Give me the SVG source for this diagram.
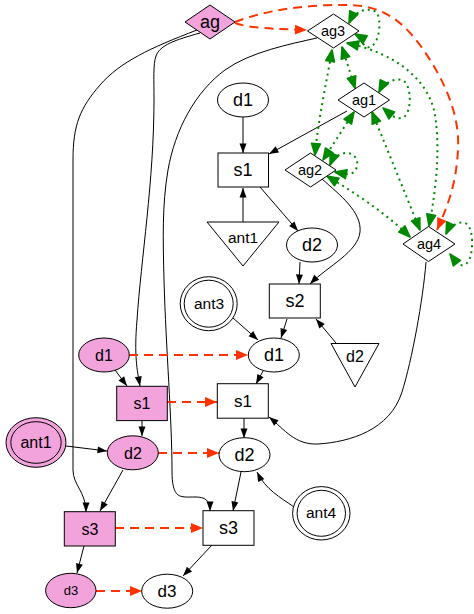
<svg xmlns="http://www.w3.org/2000/svg" width="474" height="614" viewBox="0 0 474 614">
<style>
.n{stroke:#000;stroke-width:1;fill:#fff}
.p{fill:#f2a3dc}
text{font-family:"Liberation Sans",Arial,Helvetica,sans-serif;text-anchor:middle;fill:#000}
.e{fill:none;stroke:#000;stroke-width:1;marker-end:url(#ab)}
.r{fill:none;stroke:#ff3300;stroke-width:2;stroke-dasharray:9,6;marker-end:url(#ar)}
.g{fill:none;stroke:#008800;stroke-width:2;stroke-dasharray:2,4;marker-end:url(#ag);marker-start:url(#ag)}
</style>
<defs>
<marker id="ab" markerUnits="userSpaceOnUse" markerWidth="11" markerHeight="8" refX="9.5" refY="3.5" orient="auto-start-reverse" overflow="visible"><path d="M0,0 L9.5,3.5 L0,7 z" fill="#000"/></marker>
<marker id="ar" markerUnits="userSpaceOnUse" markerWidth="13" markerHeight="11" refX="12" refY="5" orient="auto-start-reverse" overflow="visible"><path d="M0,0 L12,5 L0,10 z" fill="#ff3300"/></marker>
<marker id="ag" markerUnits="userSpaceOnUse" markerWidth="14" markerHeight="12" refX="12" refY="5" orient="auto-start-reverse" overflow="visible"><path d="M0.5,0.5 L12,5 L0.5,9.5 z" fill="#008800" stroke="#008800" stroke-width="1.5" stroke-linejoin="round"/></marker>
</defs>

<g id="connectors">
<!-- black edges -->
<path class="e" d="M243,117 L243,153"/>
<path class="e" d="M243,222 L243,188"/>
<path class="e" d="M260,187 L298,231"/>
<path class="e" d="M347,111 L269,154"/>
<path class="e" d="M322,179 C340,195 362,212 360,232 C358,252 328,266 310,284"/>
<path class="e" d="M300,262 L299,284"/>
<path class="e" d="M197,30 C150,48 120,62 100,85 C80,108 73,125 73,160 L73,470 C73,485 86,492 86,512"/>
<path class="e" d="M200,33 C175,40 160,45 156,56 C153,64 154,80 154,100 C154,180 141,260 137,320 C134,355 137,370 140,386"/>
<path class="e" d="M317,38 C290,44 250,52 225,70 C195,92 175,130 168,170 C162,205 163,240 164,280 C166,350 172,420 172,470 C172,500 180,497 195,497 C205,497 210,500 210,511"/>
<path class="e" d="M233,318 L258,340"/>
<path class="e" d="M287,319 L281,338"/>
<path class="e" d="M336,343 L316,319"/>
<path class="e" d="M263,371 L256,384"/>
<path class="e" d="M426,262 C423,300 412,360 402,392 C390,430 350,442 318,444 C295,445 285,430 269,417"/>
<path class="e" d="M244,418 L244,438"/>
<path class="e" d="M294,507 C280,497 266,490 257,472"/>
<path class="e" d="M241,472 L233,511"/>
<path class="e" d="M212,545 L183,576"/>
<path class="e" d="M115,370 L127,386"/>
<path class="e" d="M142,421 L142,436"/>
<path class="e" d="M66,446 L107,451"/>
<path class="e" d="M123,470 L100,511"/>
<path class="e" d="M84,546 L77,573"/>
<!-- red dashed -->
<path class="r" d="M235,23 C248,28 275,29 307,30"/>
<path class="r" d="M235,22 C265,10 310,4 350,5 C380,6 400,18 420,45 C445,80 460,115 458,150 C456,185 448,205 437,230"/>
<path class="r" d="M129,355 L248,355"/>
<path class="r" d="M167,402 L217,402"/>
<path class="r" d="M158,453 L219,453"/>
<path class="r" d="M115,528 L203,528"/>
<path class="r" d="M96,591 L142,591"/>
<!-- green dotted -->
<path class="g" d="M342,47 L355,88"/>
<path class="g" d="M332,50 C327,80 318,120 315,155"/>
<path class="g" d="M354,112 L323,160"/>
<path class="g" d="M372,112 L420,230"/>
<path class="g" d="M347,43 C390,52 425,75 434,110 C440,140 438,180 429,226"/>
<path class="g" d="M327,176 C350,190 385,212 410,237"/>
<path class="g" d="M349,23 C354,12 368,6 376,12 C382,18 380,44 370,47 C363,49 362,38 355,34"/>
<path class="g" d="M379,92 C384,82 398,76 405,82 C412,90 411,112 404,117 C396,121 390,114 383,108"/>
<path class="g" d="M330,165 C334,155 346,150 353,155 C360,160 358,172 350,174 C344,175 340,173 335,172"/>
<path class="g" d="M446,234 C450,225 460,220 467,224 C474,230 474,258 466,264 C460,268 456,262 450,254"/>
</g>

<g id="ag"><polygon class="n p" points="185,22 210,5 235,22 210,39"/><text x="210" y="22" dy="0.35em" font-size="18">ag</text></g>
<g id="ag3"><polygon class="n" points="307.5,31 333.5,14 359,31 333.5,48"/><text x="333" y="31" dy="0.35em" font-size="14.5">ag3</text></g>
<g id="ag1"><polygon class="n" points="338,100 364,83 389.5,100 364,117"/><text x="364" y="100" dy="0.35em" font-size="14.5">ag1</text></g>
<g id="ag2"><polygon class="n" points="285,170 310.5,153 336,170 310.5,187"/><text x="310" y="170" dy="0.35em" font-size="14.5">ag2</text></g>
<g id="ag4"><polygon class="n" points="403,244 428.5,226.5 455,244 428.5,261.5"/><text x="429" y="244" dy="0.35em" font-size="14.5">ag4</text></g>

<g id="d1_top"><ellipse class="n" cx="243" cy="100" rx="25.5" ry="17"/><text x="243" y="100" dy="0.35em" font-size="18">d1</text></g>
<g id="s1_top"><rect class="n" x="218" y="153" width="50.5" height="34"/><text x="243" y="170" dy="0.35em" font-size="18">s1</text></g>
<g id="ant1_tri"><polygon class="n" points="207,222 279,222 243,266"/><text x="243" y="238" dy="0.35em" font-size="15.5">ant1</text></g>
<g id="d2_mid"><ellipse class="n" cx="312" cy="245" rx="25.5" ry="17"/><text x="312" y="245" dy="0.35em" font-size="18">d2</text></g>
<g id="s2"><rect class="n" x="269.3" y="284" width="51" height="34"/><text x="295" y="301" dy="0.35em" font-size="18">s2</text></g>
<g id="ant3"><ellipse class="n" cx="208.7" cy="303.7" rx="28.5" ry="27"/><ellipse class="n" cx="208.7" cy="303.7" rx="24.5" ry="23.5"/><text x="209" y="304" dy="0.35em" font-size="15.5">ant3</text></g>
<g id="d2_tri"><polygon class="n" points="331,343.5 379,343.5 355,387"/><text x="355" y="356" dy="0.35em" font-size="16">d2</text></g>
<g id="d1_w"><ellipse class="n" cx="273.8" cy="355" rx="25.5" ry="17"/><text x="274" y="355" dy="0.35em" font-size="18">d1</text></g>
<g id="s1_w"><rect class="n" x="217.3" y="383.7" width="51" height="34.5"/><text x="243" y="401" dy="0.35em" font-size="17">s1</text></g>
<g id="d2_w"><ellipse class="n" cx="244.5" cy="454.7" rx="25.5" ry="17"/><text x="244.5" y="455" dy="0.35em" font-size="18">d2</text></g>
<g id="ant4"><ellipse class="n" cx="321.3" cy="513.3" rx="28.7" ry="26.7"/><ellipse class="n" cx="321.3" cy="513.3" rx="24.2" ry="23"/><text x="321" y="513" dy="0.35em" font-size="15.5">ant4</text></g>
<g id="s3_w"><rect class="n" x="203" y="510.7" width="51" height="34.6"/><text x="228.5" y="528" dy="0.35em" font-size="18">s3</text></g>
<g id="d3_w"><ellipse class="n" cx="167.2" cy="591.2" rx="25.5" ry="17"/><text x="167" y="591" dy="0.35em" font-size="17">d3</text></g>

<g id="d1_p"><ellipse class="n p" cx="104" cy="355" rx="25.3" ry="17"/><text x="104" y="355" dy="0.35em" font-size="16">d1</text></g>
<g id="s1_p"><rect class="n p" x="116.7" y="386.3" width="50.6" height="34.3"/><text x="142" y="403.5" dy="0.35em" font-size="16">s1</text></g>
<g id="ant1_p"><ellipse class="n p" cx="36" cy="442.5" rx="30" ry="24.8"/><ellipse class="n p" cx="36" cy="442.5" rx="25.2" ry="20.8"/><text x="36" y="442" dy="0.35em" font-size="16">ant1</text></g>
<g id="d2_p"><ellipse class="n p" cx="132.8" cy="452.8" rx="25.5" ry="17"/><text x="133" y="453" dy="0.35em" font-size="16">d2</text></g>
<g id="s3_p"><rect class="n p" x="64.3" y="511.7" width="51" height="34.3"/><text x="90" y="529" dy="0.35em" font-size="16">s3</text></g>
<g id="d3_p"><ellipse class="n p" cx="70.8" cy="590.5" rx="25.2" ry="17.2"/><text x="71" y="590.5" dy="0.35em" font-size="13">d3</text></g>
</svg>
